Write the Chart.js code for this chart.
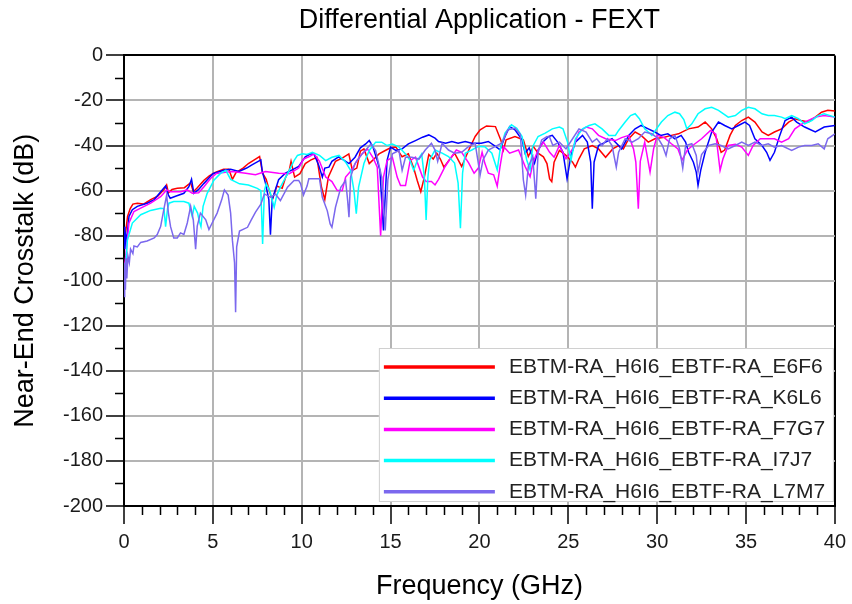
<!DOCTYPE html>
<html>
<head>
<meta charset="utf-8">
<script src="https://cdn.jsdelivr.net/npm/chart.js@4.4.1/dist/chart.umd.min.js"></script>
<style>
  html, body { margin: 0; padding: 0; background: #ffffff; }
  #c { display: block; }
</style>
</head>
<body>
<canvas id="c" width="852" height="604"></canvas>
<script>
// ---------------- DATA ----------------
const chartTitle = 'Differential Application - FEXT';
const xAxisTitle = 'Frequency (GHz)';
const yAxisTitle = 'Near-End Crosstalk (dB)';
const seriesNames = [
  'EBTM-RA_H6I6_EBTF-RA_E6F6',
  'EBTM-RA_H6I6_EBTF-RA_K6L6',
  'EBTM-RA_H6I6_EBTF-RA_F7G7',
  'EBTM-RA_H6I6_EBTF-RA_I7J7',
  'EBTM-RA_H6I6_EBTF-RA_L7M7'
];
const seriesColors = ['#ff0000', '#0000ff', '#ff00ff', '#00ffff', '#7b68ee'];

// E6F6 (red)
const freqE6F6 = [0,0.1,0.2,0.35,0.5,0.75,1.1,1.5,1.9,2.25,2.4,2.5,2.7,3.0,3.4,3.75,3.9,4.1,4.5,4.8,5.1,5.6,5.9,6.1,6.3,6.7,7.0,7.4,7.63,7.8,8.0,8.25,8.35,8.6,8.9,9.1,9.3,9.4,9.6,9.9,10.2,10.5,10.85,11.1,11.3,11.5,11.9,12.3,12.65,12.85,13.1,13.3,13.5,13.8,14.0,14.35,14.7,15.0,15.3,15.65,16.0,16.3,16.5,16.7,16.9,17.15,17.4,17.6,17.8,18.0,18.3,18.6,19.0,19.4,19.76,20.04,20.4,20.9,21.2,21.35,21.5,22.0,22.47,22.75,23.03,23.3,23.6,23.8,23.95,24.07,24.2,24.5,24.87,25.24,25.4,25.6,25.9,26.35,26.7,27.1,27.5,27.83,28.1,28.4,28.76,29.1,29.5,29.87,30.4,30.8,31.2,31.76,32.3,32.7,33.07,33.35,33.6,33.8,34.1,34.4,34.76,35.13,35.5,35.9,36.25,36.6,37.0,37.4,37.75,38.1,38.5,38.9,39.25,39.6,40.0];
const dbE6F6 = [-84,-78,-71.5,-68,-66,-65.6,-66,-64,-62.5,-59.5,-57.5,-61,-59.5,-59,-58.7,-56.5,-60.5,-59,-55.4,-53.5,-52,-50.5,-50.5,-55,-52,-50,-48,-46,-44.9,-52.3,-55,-62,-64,-58,-59,-54,-51,-47,-54,-52.5,-48,-46.5,-45.2,-58,-64,-54,-47,-45.5,-43.7,-51,-50,-42.5,-41.5,-48,-46.5,-43.7,-42.2,-41,-40.7,-45,-43.7,-50,-55.5,-60.5,-54,-44,-46,-43.4,-46,-49.6,-46.4,-43.4,-49.3,-42,-36,-33,-31.3,-31.6,-37.5,-42,-37.5,-36,-37.5,-44.9,-40.4,-43.4,-45,-48,-54.8,-56,-47.4,-42.2,-44.4,-47.4,-49.6,-45.9,-41.5,-40,-41.5,-45.2,-41.5,-40,-41.5,-37,-34,-35.5,-38.5,-37,-36.3,-35.5,-34.8,-32.6,-31.8,-29.6,-32.6,-37,-43,-42,-35.5,-31.1,-28.9,-27.4,-29.6,-34,-35.5,-34,-32.6,-29.6,-28.1,-28.9,-29.6,-27.4,-25.2,-24.4,-24.7];

// K6L6 (blue)
const freqK6L6 = [0,0.05,0.1,0.15,0.28,0.47,0.75,1.3,1.7,2.15,2.34,2.5,2.6,2.9,3.37,3.65,3.8,3.93,4.2,4.5,5.0,5.6,6.0,6.47,6.9,7.2,7.7,7.78,7.96,8.15,8.24,8.34,8.7,9.08,9.46,9.83,10.2,10.5,10.7,10.95,11.16,11.3,11.53,11.7,12.07,12.28,12.66,13.0,13.3,13.6,13.8,14.0,14.25,14.4,14.6,14.8,15.0,15.3,15.65,16.0,16.4,16.8,17.15,17.5,17.7,18.1,18.45,18.8,19.2,19.57,20.1,20.5,20.9,21.16,21.44,21.7,22.0,22.4,22.57,22.8,23.1,23.3,23.6,23.9,24.1,24.4,24.7,24.93,25.15,25.4,25.8,26.07,26.26,26.35,26.45,26.7,27.1,27.46,27.83,28.0,28.4,28.76,29.1,29.5,29.87,30.2,30.6,31.0,31.35,31.6,31.77,32.04,32.2,32.3,32.45,32.7,33.07,33.45,33.8,34.2,34.57,34.94,35.2,35.5,35.9,36.16,36.35,36.6,36.9,37.2,37.57,37.85,38.3,38.9,39.4,40.0];
const dbK6L6 = [-76,-86,-80,-82,-71.5,-68.5,-67,-65.6,-64,-59.7,-58,-62,-63.4,-62.5,-61.2,-58.3,-55,-61.2,-59.5,-56.8,-52.5,-51,-50.5,-51.5,-50,-48.6,-46.4,-51.5,-56.7,-64,-79.6,-64,-55.2,-52.3,-50.8,-49.3,-45,-43.7,-44,-48.6,-54,-50,-49.6,-47,-45,-46,-48,-45.2,-41,-39.3,-37.8,-40.5,-46.7,-51,-77.7,-46.7,-40.7,-42.2,-41.5,-39.3,-37.8,-36.3,-35.3,-36.7,-38.2,-39,-38.2,-39,-38.2,-39,-39,-38.2,-40.4,-41.9,-36,-31.6,-33,-37.5,-43.4,-41,-47.8,-42,-38.2,-36,-35.5,-38.5,-43,-54.8,-44.4,-38.5,-35.5,-38.5,-47.4,-68,-47.4,-40,-38.5,-37,-40,-41.5,-35.5,-32.6,-31.1,-32.6,-34,-35.5,-34.8,-37,-35.5,-38.5,-43,-47.4,-51.8,-57.7,-51,-43,-34,-29.6,-31.1,-32.6,-31.1,-29.6,-31.1,-37,-40,-43,-46.6,-43,-35.5,-28.9,-27.4,-29.6,-31.8,-34,-31.8,-31.1];

// F7G7 (magenta)
const freqF7G7 = [0,0.1,0.28,0.56,0.94,1.5,2.06,2.4,2.62,3.2,3.56,3.84,4.2,4.5,4.87,5.2,5.6,6.1,6.85,7.4,7.96,8.7,9.3,9.83,10.1,10.4,10.7,11.0,11.35,11.7,12.0,12.28,12.47,12.8,13.1,13.4,13.7,14.0,14.25,14.44,14.6,14.8,15.1,15.37,15.56,15.84,16.1,16.4,16.8,17.0,17.3,17.5,17.7,18.07,18.26,18.7,19.0,19.4,19.7,19.94,20.15,20.3,20.5,20.8,21.0,21.16,21.35,21.7,22.2,22.57,22.85,23.0,23.3,23.6,23.95,24.2,24.5,24.87,25.24,25.6,26.0,26.35,26.7,27.1,27.65,28.0,28.4,28.67,28.8,28.94,29.05,29.3,29.5,29.6,29.8,30.0,30.4,30.8,31.17,31.4,31.7,32.0,32.5,33.0,33.3,33.54,33.7,34.0,34.4,34.76,35.13,35.4,35.8,36.2,36.6,37.0,37.4,37.75,38.3,38.9,39.4,40.0];
const dbF7G7 = [-95,-89,-74.4,-69.3,-67.8,-65.6,-62.7,-59.7,-60.5,-60.5,-59.7,-61.2,-61,-58.3,-54.6,-52.4,-52,-51.5,-52.3,-53,-51.5,-52.3,-52.5,-50,-46,-45,-43.7,-47,-54,-56,-60,-60,-54,-51,-46.7,-43.7,-41.5,-45.2,-49.6,-80,-54,-46.7,-45.2,-54,-57.8,-57.8,-46.7,-45.2,-54,-56,-56,-57.5,-55,-49.3,-47,-42,-43,-47.8,-52.3,-50,-43,-47.8,-52.3,-53,-58,-49.3,-40.4,-43.4,-42,-49.3,-53.8,-48,-42,-38.5,-43,-45.2,-40,-45.9,-41.5,-34,-31.8,-32.6,-35.5,-37,-37.8,-36.5,-35.5,-41.5,-47.4,-68,-47,-38.5,-47.4,-51.8,-41.5,-35.5,-36.5,-39.2,-41.5,-46.5,-42,-40,-37,-33.3,-35,-51,-46,-40,-39.5,-40.7,-44.4,-40,-37,-37,-37,-38.5,-37,-32.6,-29.6,-27.4,-26.7,-27.4];

// I7J7 (cyan)
const freqI7J7 = [0,0.1,0.19,0.47,0.94,1.5,2.06,2.25,2.34,2.45,2.53,2.8,3.37,3.65,3.84,3.95,4.14,4.25,4.33,4.45,4.68,5.06,5.43,5.73,6.0,6.5,7.0,7.5,7.7,7.8,7.9,8.0,8.2,8.45,8.6,8.8,9.2,9.57,9.76,10.04,10.3,10.6,11.0,11.35,11.7,12.1,12.47,12.75,12.94,13.07,13.2,13.5,13.8,14.16,14.5,14.8,15.1,15.47,15.84,16.1,16.3,16.5,16.75,16.9,17.0,17.1,17.2,17.5,17.9,18.26,18.6,18.8,18.93,19.05,19.2,19.57,19.94,20.3,20.7,21.0,21.16,21.44,21.8,22.1,22.4,22.66,22.85,23.0,23.3,23.7,24.1,24.5,24.7,24.96,25.15,25.24,25.4,25.8,26.17,26.5,26.9,27.28,27.65,27.83,28.2,28.5,28.76,29.0,29.3,29.7,29.96,30.24,30.6,31.0,31.26,31.5,31.67,31.95,32.3,32.7,33.07,33.45,34.0,34.4,34.76,35.13,35.5,35.9,36.25,36.6,37.0,37.2,37.57,37.95,38.3,38.7,39.06,39.4,40.0];
const dbI7J7 = [-97,-93.4,-82,-74.4,-70.7,-68.8,-67.8,-68,-76,-68,-65.6,-64.9,-64.9,-65.6,-71.5,-67,-70,-74,-76,-67,-61.2,-55.4,-52.4,-51,-55,-57,-57.5,-59,-60,-83.7,-60,-57,-60,-67.4,-62,-58.5,-52.6,-46.7,-44.4,-43.7,-44,-43,-44.4,-46.7,-45.2,-44.4,-47.4,-51,-60,-70.3,-58.5,-48,-42.2,-38.5,-38.5,-40,-39.3,-40.7,-43.7,-46.7,-51,-46.7,-43.7,-54,-73,-54,-46.4,-42,-43.4,-44.9,-47.8,-56.7,-76.7,-52.3,-43.4,-42,-40.4,-40.5,-43.4,-50.8,-42,-34.5,-30.8,-32.3,-36,-46.4,-50.8,-40.4,-36,-34.5,-32.6,-31.8,-32.6,-38.5,-46.6,-43,-37,-32.6,-31.1,-30.4,-32.6,-35.5,-35.5,-33.3,-29.6,-26.7,-25.9,-28.1,-32.6,-35.5,-32.6,-29.6,-26.7,-25.2,-25.9,-28.5,-32.6,-30.4,-25.9,-23.7,-23,-24.4,-27.4,-26.7,-24.4,-23,-23.7,-25.9,-26.7,-26.7,-27.4,-28.1,-26.7,-28.1,-30.4,-28.9,-26.7,-25.9,-27.4];

// L7M7 (medium slate blue)
const freqL7M7 = [0,0.04,0.08,0.12,0.16,0.22,0.3,0.37,0.5,0.56,0.75,0.94,1.3,1.7,1.87,2.06,2.25,2.4,2.5,2.62,2.8,3.0,3.18,3.37,3.56,3.75,3.9,4.03,4.12,4.3,4.6,4.78,4.96,5.24,5.5,5.65,5.86,6.0,6.1,6.22,6.28,6.34,6.5,6.95,7.14,7.4,7.7,7.9,8.26,8.52,8.8,9.2,9.57,9.83,9.94,10.1,10.3,10.4,11.0,11.16,11.44,11.6,11.7,11.9,12.2,12.47,12.58,12.66,12.75,13.0,13.4,13.9,14.16,14.5,14.7,14.85,15.1,15.47,15.65,15.84,16.2,16.6,16.95,17.3,17.5,17.65,17.9,18.26,18.6,19.0,19.4,19.76,20.04,20.2,20.5,20.9,21.25,21.6,22.0,22.3,22.47,22.6,22.75,23.0,23.17,23.3,23.5,23.8,23.95,24.13,24.5,24.87,25.24,25.6,26.0,26.35,26.6,26.9,27.2,27.46,27.7,27.83,28.2,28.6,28.94,29.3,29.7,30.07,30.3,30.5,30.7,31.0,31.26,31.44,31.6,31.95,32.2,32.3,32.5,32.9,33.26,33.6,34.0,34.4,34.76,35.13,35.5,35.9,36.25,36.6,37.0,37.57,37.95,38.3,38.7,39.06,39.4,39.6,40.0];
const dbL7M7 = [-107,-92,-104,-90,-99,-89,-92,-86,-88,-84.6,-85,-83,-82.4,-81,-79.5,-76,-68,-62,-70,-76,-81,-81,-78.8,-79.5,-74.4,-67,-73,-86,-75.8,-70,-73,-77.3,-74.4,-70,-64,-59.7,-62,-70,-82,-92,-114,-85,-78,-76.3,-73.3,-69.6,-66,-61.5,-63,-61.5,-64.4,-58.5,-55.5,-55.5,-57,-62,-58,-54.8,-54.8,-63,-69,-74.8,-76.3,-67.4,-58.5,-55.5,-64,-71.8,-54,-48,-43.7,-39.3,-42.2,-54,-77.7,-55,-43.7,-42.2,-51,-45.2,-45.2,-46,-42,-39,-42,-47,-39,-42,-43.4,-43,-40.4,-39,-53,-46.4,-42,-40.4,-39,-33,-32.3,-35,-55.2,-62,-49.3,-45,-63.6,-43.4,-37.5,-36,-36.3,-40,-38.5,-41.5,-37,-32.6,-34,-38.5,-37,-40,-37,-40,-49.6,-43,-37,-38.5,-37,-34,-34.8,-37,-40,-44.4,-37,-35.5,-41.5,-50,-40,-39.2,-44.4,-51.8,-44,-40,-39.2,-40,-41.5,-40,-38.5,-40,-38.5,-40,-39.2,-40.7,-40,-42.2,-40.7,-40,-40,-39.2,-41.5,-37,-34.8];

const seriesFreqs = [freqE6F6, freqK6L6, freqF7G7, freqI7J7, freqL7M7];
const seriesDbs = [dbE6F6, dbK6L6, dbF7G7, dbI7J7, dbL7M7];

const xMin = 0, xMax = 40, xMajorStep = 5, xMinorStep = 1;
const yMin = -200, yMax = 0, yMajorStep = 20, yMinorStep = 10;

// ---------------- STYLE ----------------
const FONT = '"Liberation Sans", Arial, Helvetica, sans-serif';
const GRID_GRAY = '#b4b4b4';

const minorTicksPlugin = {
  id: 'minorTicks',
  afterDraw(chart) {
    const { ctx, chartArea, scales } = chart;
    const xs = scales.x, ys = scales.y;
    ctx.save();
    ctx.strokeStyle = '#000';
    ctx.lineWidth = 1.5;
    ctx.beginPath();
    for (let v = xMin; v <= xMax + 1e-9; v += xMinorStep) {
      if (Math.abs(v % xMajorStep) < 1e-9) continue;
      const px = Math.round(xs.getPixelForValue(v)) + 0.5;
      ctx.moveTo(px, chartArea.bottom);
      ctx.lineTo(px, chartArea.bottom + 9);
    }
    for (let v = yMin; v <= yMax + 1e-9; v += yMinorStep) {
      if (Math.abs(v % yMajorStep) < 1e-9) continue;
      const py = Math.round(ys.getPixelForValue(v)) + 0.5;
      ctx.moveTo(chartArea.left - 9, py);
      ctx.lineTo(chartArea.left, py);
    }
    ctx.stroke();
    ctx.restore();
  }
};

const boxLegendPlugin = {
  id: 'boxLegend',
  afterDraw(chart) {
    const { ctx, chartArea } = chart;
    const w = 455, h = 154;
    const right = chartArea.right - 1, bottom = chartArea.bottom - 4;
    const left = right - w, top = bottom - h;
    ctx.save();
    ctx.fillStyle = '#ffffff';
    ctx.fillRect(left, top, w, h);
    ctx.strokeStyle = '#d0d0d0';
    ctx.lineWidth = 1;
    ctx.strokeRect(left + 0.5, top + 0.5, w - 1, h - 1);
    ctx.font = '21px ' + FONT;
    ctx.textBaseline = 'middle';
    ctx.textAlign = 'left';
    chart.data.datasets.forEach((ds, i) => {
      const cy = top + 19 + i * 31.2;
      ctx.strokeStyle = ds.borderColor;
      ctx.lineWidth = 3.5;
      ctx.beginPath();
      ctx.moveTo(left + 5, cy);
      ctx.lineTo(left + 116, cy);
      ctx.stroke();
      ctx.fillStyle = '#222';
      ctx.fillText(ds.label, left + 130, cy);
    });
    ctx.restore();
  }
};

const datasets = seriesNames.map((name, i) => ({
  label: name,
  data: seriesFreqs[i].map((f, j) => ({ x: f, y: seriesDbs[i][j] })),
  borderColor: seriesColors[i],
  backgroundColor: seriesColors[i],
  borderWidth: 1.5,
  pointRadius: 0,
  tension: 0,
  fill: false,
  order: seriesNames.length - i
}));

new Chart(document.getElementById('c'), {
  type: 'line',
  data: { datasets },
  plugins: [minorTicksPlugin, boxLegendPlugin],
  options: {
    responsive: false,
    animation: false,
    devicePixelRatio: 1,
    layout: { padding: { left: 0, right: 15, top: 0, bottom: 0 } },
    plugins: {
      legend: { display: false },
      tooltip: { enabled: false },
      title: {
        display: true,
        text: chartTitle,
        fullSize: false,
        color: '#000',
        font: { family: FONT, size: 27, weight: 'normal' },
        padding: { top: 4, bottom: 19 }
      }
    },
    scales: {
      x: {
        type: 'linear',
        min: xMin, max: xMax,
        ticks: { stepSize: xMajorStep, color: '#1a1a1a', font: { family: FONT, size: 20 }, padding: 6, maxRotation: 0, autoSkip: false },
        grid: {
          color: (c) => (c.tick && c.tick.value === xMax) ? '#000' : GRID_GRAY,
          lineWidth: 2,
          tickColor: '#000',
          tickLength: 18,
          tickWidth: 1.5
        },
        border: { display: true, color: '#000', width: 2 },
        title: { display: true, text: xAxisTitle, color: '#000', font: { family: FONT, size: 27, weight: 'normal' }, padding: { top: 0, bottom: 1 } },
        afterFit: (s) => { s.height = 98; }
      },
      y: {
        type: 'linear',
        min: yMin, max: yMax,
        ticks: { stepSize: yMajorStep, color: '#1a1a1a', font: { family: FONT, size: 20 }, padding: 3, autoSkip: false },
        grid: {
          color: (c) => (c.tick && c.tick.value === yMax) ? '#000' : GRID_GRAY,
          lineWidth: 2,
          tickColor: '#000',
          tickLength: 18,
          tickWidth: 1.5
        },
        border: { display: true, color: '#000', width: 2 },
        title: { display: true, text: yAxisTitle, color: '#000', font: { family: FONT, size: 27, weight: 'normal' }, padding: { top: 9, bottom: 0 } },
        afterFit: (s) => { s.width = 124; }
      }
    }
  }
});
</script>
</body>
</html>
